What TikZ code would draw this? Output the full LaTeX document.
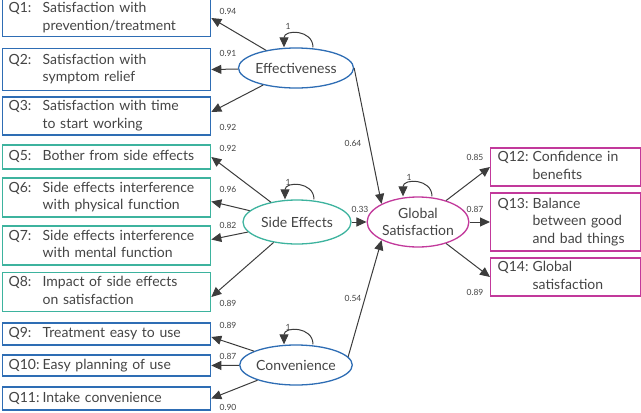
\documentclass[tikz,border=0pt]{standalone}
\usepackage{fontspec}
\setmainfont{Lato}
\usetikzlibrary{arrows.meta,shapes.geometric}
\definecolor{effblue}{HTML}{2E6DB4}
\definecolor{seteal}{HTML}{3DB39E}
\definecolor{glmag}{HTML}{C2399B}
\definecolor{txtgray}{HTML}{444444}
\definecolor{linegray}{HTML}{3C3C3C}
\tikzset{
  qbox/.style={draw=#1,line width=1.3pt,rectangle,anchor=west,text width=196pt,inner xsep=6pt,inner ysep=0pt,align=left,text=txtgray,font=\fontsize{14}{17.5}\selectfont},
  latent/.style={draw=#1,line width=1.3pt,ellipse,inner sep=0pt,text=txtgray,align=center,font=\fontsize{14}{17}\selectfont},
  load/.style={draw=linegray,line width=1pt,-{Triangle[length=10pt,width=9pt]}},
  coef/.style={inner sep=0pt,text=txtgray,font=\fontsize{8.5}{10}\selectfont}
}
\newcommand{\qtext}[3]{\makebox[#1][l]{#2}\begin{tabular}[t]{@{}l@{}}#3\end{tabular}}
\begin{document}
\begin{tikzpicture}[x=1pt,y=1pt]
\useasboundingbox (0,0) rectangle (641,-413);
% latent variables
\node[latent=effblue,minimum width=108pt,minimum height=40pt] (eff) at (296,-68) {Effectiveness};
\node[latent=seteal,minimum width=108pt,minimum height=44pt] (side) at (297,-222) {Side Effects};
\node[latent=effblue,minimum width=106pt,minimum height=40pt] (conv) at (296,-365) {Convenience};
\node[latent=glmag,minimum width=90pt,minimum height=50pt] (glob) at (418,-222) {Global\\Satisfaction};
% items
\node[qbox=effblue,minimum height=37pt] (q1) at (2,-18) {\qtext{34pt}{Q1:}{Satisfaction with\\prevention/treatment}};
\node[qbox=effblue,minimum height=42pt] (q2) at (2,-69.5) {\qtext{34pt}{Q2:}{Satisfaction with\\symptom relief}};
\node[qbox=effblue,minimum height=38pt] (q3) at (2,-116) {\qtext{34pt}{Q3:}{Satisfaction with time\\to start working}};
\node[qbox=seteal,minimum height=24pt] (q5) at (2,-157) {\qtext{34pt}{Q5:}{Bother from side effects}};
\node[qbox=seteal,minimum height=39pt] (q6) at (2,-197.5) {\qtext{34pt}{Q6:}{Side effects interference\\with physical function}};
\node[qbox=seteal,minimum height=39pt] (q7) at (2,-245.5) {\qtext{34pt}{Q7:}{Side effects interference\\with mental function}};
\node[qbox=seteal,minimum height=39pt] (q8) at (2,-292) {\qtext{34pt}{Q8:}{Impact of side effects\\on satisfaction}};
\node[qbox=effblue,minimum height=22pt] (q9) at (2,-334) {\qtext{34pt}{Q9:}{Treatment easy to use}};
\node[qbox=effblue,minimum height=21pt] (q10) at (2,-365.5) {\qtext{34pt}{Q10:}{Easy planning of use}};
\node[qbox=effblue,minimum height=23pt] (q11) at (2,-398.5) {\qtext{34pt}{Q11:}{Intake convenience}};
\node[qbox=glmag,text width=136pt,inner xsep=7pt,minimum height=38pt] (q12) at (490,-167) {\qtext{35pt}{Q12:}{Confidence in\\benefits}};
\node[qbox=glmag,text width=136pt,inner xsep=7pt,minimum height=58pt] (q13) at (490,-222) {\qtext{35pt}{Q13:}{Balance\\between good\\and bad things}};
\node[qbox=glmag,text width=136pt,inner xsep=7pt,minimum height=38pt] (q14) at (490,-277) {\qtext{35pt}{Q14:}{Global\\satisfaction}};
% loadings
\draw[load] (eff) -- (q1.east);
\draw[load] (eff) -- (q2.east);
\draw[load] (eff) -- ([yshift=4pt]q3.east);
\draw[load] (side) -- (q5.east);
\draw[load] (side) -- ([yshift=-4pt]q6.east);
\draw[load] (side) -- ([yshift=6pt]q7.east);
\draw[load] (side) -- ([yshift=-5pt]q8.east);
\draw[load] (conv) -- ([yshift=-3pt]q9.east);
\draw[load] (conv) -- (q10.east);
\draw[load] (conv) -- (q11.east);
\draw[load] (eff.east) -- (glob.north west);
\draw[load] (side) -- (glob);
\draw[load] (conv.9) -- (glob.south west);
\draw[load] (glob) -- (q12.west);
\draw[load] (glob) -- (q13.west);
\draw[load] (glob) -- (q14.west);
% variances
\draw[load] ([xshift=17pt]eff.north) to[out=90,in=90,looseness=1.6] ([xshift=-12pt]eff.north);
\draw[load] ([xshift=17pt]side.north) to[out=90,in=90,looseness=1.6] ([xshift=-12pt]side.north);
\draw[load] ([xshift=17pt]conv.north) to[out=90,in=90,looseness=1.6] ([xshift=-12pt]conv.north);
\draw[load] ([xshift=14pt]glob.north) to[out=90,in=90,looseness=1.6] ([xshift=-15pt]glob.north);
\node[coef] (v1) at (288,-26) {1};
\node[coef] (v2) at (288,-182) {1};
\node[coef] (v3) at (288,-327) {1};
\node[coef] (v4) at (409,-177) {1};
% coefficients
\node[coef] (c1) at (228,-11) {0.94};
\node[coef] (c2) at (228,-53) {0.91};
\node[coef] (c3) at (228,-127) {0.92};
\node[coef] (c5) at (228,-148) {0.92};
\node[coef] (c6) at (228,-189) {0.96};
\node[coef] (c7) at (228,-225) {0.82};
\node[coef] (c8) at (228,-303) {0.89};
\node[coef] (c9) at (228,-325) {0.89};
\node[coef] (c10) at (228,-356) {0.87};
\node[coef] (c11) at (228,-407) {0.90};
\node[coef] (ce) at (353,-143) {0.64};
\node[coef] (cs) at (360,-209) {0.33};
\node[coef] (cc) at (353,-298) {0.54};
\node[coef] (c12) at (475,-157) {0.85};
\node[coef] (c13) at (475,-209) {0.87};
\node[coef] (c14) at (475,-292) {0.89};
\end{tikzpicture}
\end{document}
